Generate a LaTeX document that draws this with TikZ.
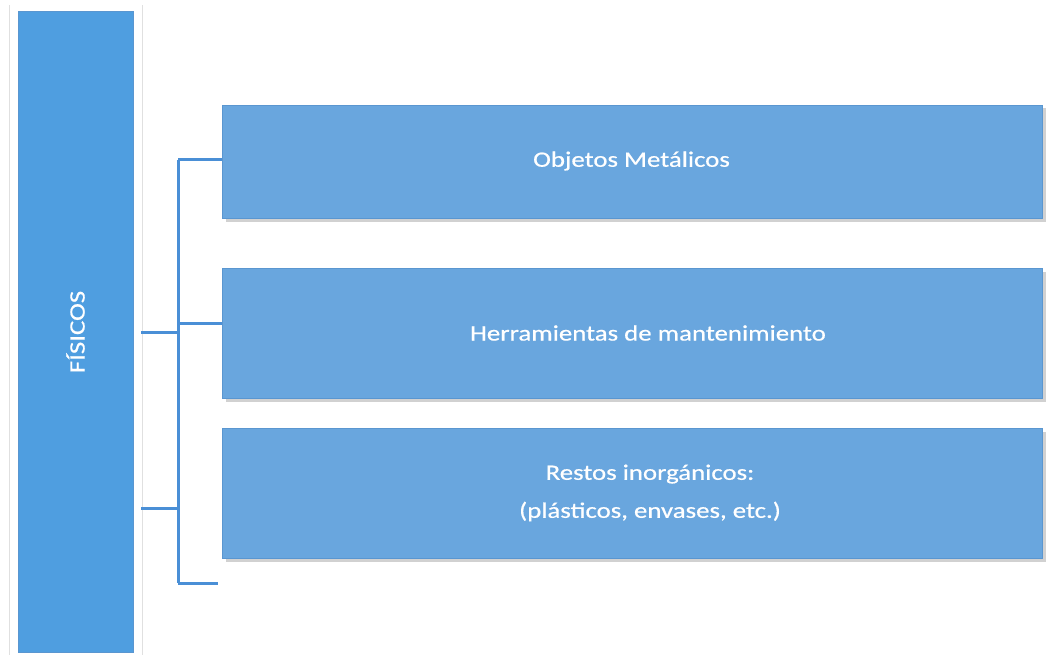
\documentclass[tikz,border=0pt]{standalone}
\usepackage{fontspec}
\setmainfont{Carlito}
\newfontfamily\widefont[FakeStretch=1.22,FakeBold=0.6]{Carlito}
\usetikzlibrary{shadows}
\definecolor{leftblue}{HTML}{4F9EE0}
\definecolor{boxblue}{HTML}{69A6DE}
\definecolor{edgeblue}{HTML}{5A96D0}
\definecolor{linkblue}{HTML}{4A8FD6}
\tikzset{
  catbox/.style={draw=edgeblue, line width=1pt, fill=boxblue,
    minimum width=820pt, minimum height=#1, inner sep=0pt,
    drop shadow={shadow xshift=3pt, shadow yshift=-3pt, fill=black!30, opacity=0.6}},
  cattext/.style={text=white, inner sep=0pt,
    font=\widefont\fontsize{22}{26}\selectfont, align=center},
  mainbox/.style={draw=edgeblue, line width=1pt, fill=leftblue,
    minimum width=115pt, minimum height=641pt, inner sep=0pt},
  link/.style={draw=linkblue, line width=3pt},
  frameline/.style={draw=black!12, line width=1pt}
}
\begin{document}
\begin{tikzpicture}[x=1pt,y=-1pt]
\useasboundingbox (0,0) rectangle (1053,658);
\draw[frameline] (9,5) -- (9,655);
\draw[frameline] (142,5) -- (142,655);
\node[mainbox, anchor=north west] (fis) at (18,11) {};
\node[text=white, rotate=90, font=\widefont\fontsize{22}{26}\selectfont] (fist) at (75.5,332) {FÍSICOS};
\node[catbox=113pt, anchor=north west] (b1) at (222,105) {};
\node[catbox=130pt, anchor=north west] (b2) at (222,268) {};
\node[catbox=130pt, anchor=north west] (b3) at (222,428) {};
\node[cattext] (t1) at (631.5,161) {Objetos Metálicos};
\node[cattext] (t2) at (648,333) {Herramientas de mantenimiento};
\node[cattext] (t3) at (650,493) {Restos inorgánicos:\\[12pt](plásticos, envases, etc.)};
\coordinate (top) at (178,160);
\coordinate (bot) at (178,583);
\coordinate (s1) at (141,332);
\coordinate (s2) at (141,508);
\coordinate (end4) at (218,583);
\draw[link] (top) -- (bot);
\draw[link] (top) -- (top -| b1.west);
\draw[link] (178,323) -- (b2.west |- 178,323);
\draw[link] (s1) -- (s1 -| top);
\draw[link] (s2) -- (s2 -| top);
\draw[link] (bot) -- (end4);
\end{tikzpicture}
\end{document}
